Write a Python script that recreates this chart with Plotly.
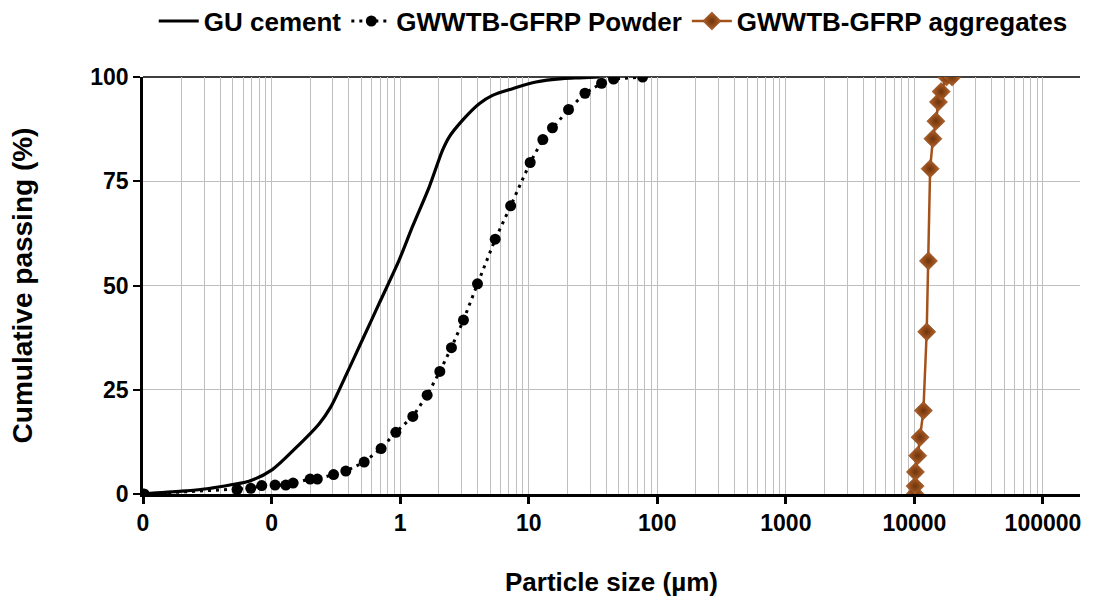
import plotly.graph_objects as go

# GU cement (continuous curve)
gu_x = [0.01, 0.0201, 0.0326, 0.0496, 0.0668, 0.1014, 0.1543, 0.234, 0.289, 0.378, 0.509, 0.687,
        0.982, 1.247, 1.682, 2.134, 2.405, 3.05, 4.12, 5.23, 7.48, 11.4, 18.3, 24.7, 35.5]
gu_y = [0.0, 0.67, 1.32, 2.27, 3.06, 5.86, 11.05, 16.8, 20.9, 28.4, 37.0, 45.7,
        56.1, 64.1, 73.6, 82.4, 85.6, 89.6, 93.6, 95.6, 97.2, 98.8, 99.6, 99.8, 100.0]

# GWWTB-GFRP Powder
pw_x = [0.0102, 0.0539, 0.0689, 0.0839, 0.1065, 0.129, 0.147, 0.1995, 0.227, 0.3035, 0.378, 0.525,
        0.711, 0.926, 1.255, 1.622, 2.036, 2.507, 3.109, 3.997, 5.49, 7.24, 10.27, 12.88,
        15.3, 20.4, 27.4, 36.9, 45.7, 76.9]
pw_y = [0.0, 1.08, 1.36, 2.03, 2.15, 2.15, 2.63, 3.59, 3.59, 4.67, 5.50, 7.66,
        10.9, 14.8, 18.6, 23.7, 29.4, 35.1, 41.7, 50.4, 61.1, 69.1, 79.5, 85.0,
        87.8, 92.2, 96.1, 98.5, 99.5, 100.0]

# GWWTB-GFRP aggregates
ag_x = [10125, 10125, 10185, 10610, 11070, 11750, 12465, 12850, 13250, 13930, 14700, 15380, 16140, 17750, 19650]
ag_y = [0.0, 1.9, 5.3, 9.2, 13.6, 20.0, 38.9, 55.9, 78.0, 85.2, 89.4, 94.0, 96.5, 100.0, 100.0]

tick_vals = [0.01, 0.1, 1, 10, 100, 1000, 10000, 100000]
tick_text = ["0", "0", "1", "10", "100", "1000", "10000", "100000"]
y_ticks = [0, 25, 50, 75, 100]

FONT = "Liberation Sans, Arial, sans-serif"
GRID = "#BFBFBF"

fig = go.Figure()
fig.add_trace(go.Scatter(x=gu_x, y=gu_y, mode="lines", name="GU cement",
                         line=dict(color="black", width=3.2, shape="spline", smoothing=0.8)))
fig.add_trace(go.Scatter(x=pw_x, y=pw_y, mode="lines+markers", name="GWWTB-GFRP Powder",
                         line=dict(color="black", width=3, dash="3px,5px"),
                         marker=dict(symbol="circle", size=11, color="black")))
fig.add_trace(go.Scatter(x=ag_x, y=ag_y, mode="lines+markers", name="GWWTB-GFRP aggregates",
                         line=dict(color="#A4521C", width=2.5),
                         marker=dict(symbol="diamond", size=14, color="#B8642A",
                                     gradient=dict(type="radial", color="#6E340C"),
                                     line=dict(color="#7A3C10", width=0.5))))

minor_vals = [m * 10 ** e for e in range(-2, 6) for m in range(2, 10)]

fig.update_layout(
    width=1117, height=603,
    margin=dict(l=143, r=37, t=77, b=109, autoexpand=False),
    paper_bgcolor="white", plot_bgcolor="white",
    font=dict(family=FONT, color="black"),
    showlegend=True,
    legend=dict(orientation="h", x=0.549, xanchor="center", y=0.965, yanchor="middle",
                xref="container", yref="container",
                font=dict(size=26, family=FONT, color="black", weight="bold"),
                itemwidth=40, bgcolor="rgba(0,0,0,0)", tracegroupgap=0),
    xaxis=dict(type="log", range=[-2.0, 5.288],
               tickmode="array", tickvals=tick_vals, ticktext=tick_text,
               tickfont=dict(size=23, family=FONT, color="black", weight="bold"),
               showline=True, linecolor="black", linewidth=2.5,
               ticks="outside", ticklen=7, tickwidth=2.5, tickcolor="black",
               showgrid=True, gridcolor=GRID, gridwidth=1,
               minor=dict(tickmode="array", tickvals=minor_vals, showgrid=True,
                          gridcolor=GRID, gridwidth=1, ticks=""),
               title=dict(text="Particle size (µm)", standoff=38,
                          font=dict(size=26, family=FONT, color="black", weight="bold")),
               zeroline=False),
    yaxis=dict(range=[0, 100], tickmode="array", tickvals=y_ticks,
               tickfont=dict(size=23, family=FONT, color="black", weight="bold"),
               showline=True, linecolor="black", linewidth=2.5,
               ticks="outside", ticklen=7, tickwidth=2, tickcolor="black",
               showgrid=True, gridcolor=GRID, gridwidth=1,
               title=dict(text="Cumulative passing (%)", standoff=50,
                          font=dict(size=28, family=FONT, color="black", weight="bold")),
               zeroline=False),
    shapes=[dict(type="line", xref="paper", yref="paper", x0=0, x1=1, y0=1, y1=1,
                 line=dict(color="black", width=1.5), layer="below")],
)

fig.write_html("out.html")
